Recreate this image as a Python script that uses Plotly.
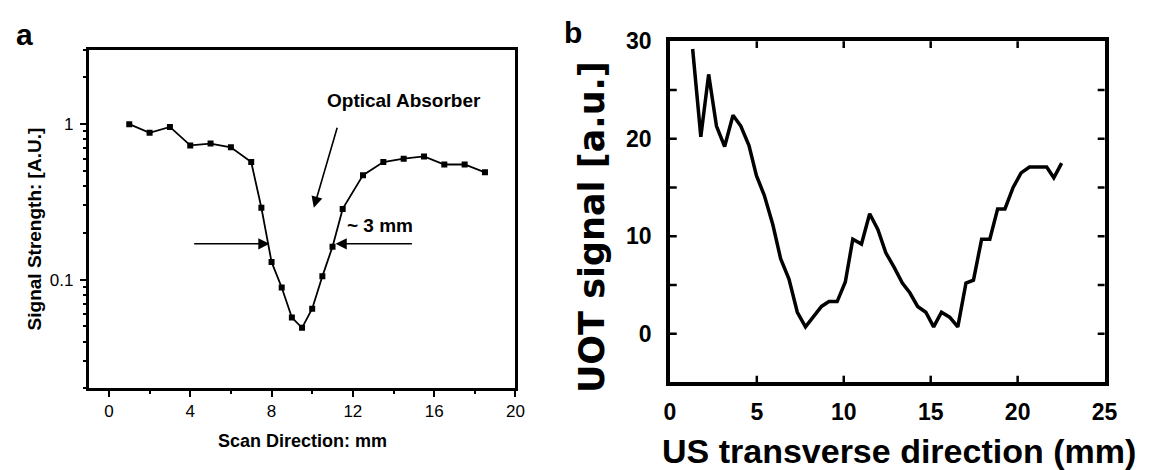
import math
import plotly.graph_objects as go

# ---- panel a: scan across the optical absorber (log scale) ----
scan_mm = [1, 2, 3, 4, 5, 6, 7, 7.5, 8, 8.5, 9, 9.5, 10, 10.5, 11, 11.5,
           12.5, 13.5, 14.5, 15.5, 16.5, 17.5, 18.5]
signal_au = [1.0, 0.88, 0.96, 0.73, 0.75, 0.71, 0.57, 0.29, 0.13, 0.089,
             0.057, 0.049, 0.065, 0.105, 0.163, 0.285, 0.47, 0.57, 0.60,
             0.62, 0.55, 0.55, 0.49]

# ---- panel b: UOT signal along the US transverse direction ----
us_mm = [1.31, 1.78, 2.23, 2.68, 3.15, 3.63, 4.08, 4.55, 4.98, 5.43, 5.92,
         6.37, 6.85, 7.33, 7.8, 8.25, 8.72, 9.15, 9.62, 10.09, 10.52, 11.02,
         11.49, 11.96, 12.42, 12.9, 13.37, 13.8, 14.25, 14.72, 15.17, 15.62,
         16.09, 16.56, 17.03, 17.46, 17.93, 18.4, 18.85, 19.27, 19.74, 20.2,
         20.68, 21.15, 21.67, 22.08, 22.53]
uot_signal = [29.2, 20.2, 26.6, 21.3, 19.2, 22.4, 21.3, 19.3, 16.2, 14.2,
              11.2, 7.7, 5.6, 2.2, 0.7, 1.8, 2.8, 3.3, 3.3, 5.3, 9.7, 9.2,
              12.3, 10.7, 8.3, 6.8, 5.2, 4.2, 2.8, 2.2, 0.7, 2.2, 1.7, 0.7,
              5.2, 5.5, 9.7, 9.7, 12.8, 12.8, 15.0, 16.5, 17.1, 17.1, 17.1,
              16.0, 17.5]

a_xticks = [0, 4, 8, 12, 16, 20]
a_yticks = [0.1, 1]
a_yticklabels = ["0.1", "1"]
b_xticks = [0, 5, 10, 15, 20, 25]
b_yticks = [0, 10, 20, 30]
b_yminor = [-5, 5, 15, 25]

W, H = 1152, 470
ARIAL = "Liberation Sans, Arial, Helvetica, sans-serif"

# panel b plot box (pixels) and inward tick length
B_LEFT, B_RIGHT, B_TOP, B_BOTTOM = 675, 1117, 29, 380
B_TICK = 7


def px(x):
    return x / W


def py(y):
    return 1 - y / H


def bold(vals):
    return ["<b>%g</b>" % v for v in vals]


fig = go.Figure()

fig.add_trace(go.Scatter(
    x=scan_mm, y=signal_au, xaxis="x", yaxis="y", mode="lines+markers",
    line=dict(color="black", width=1.8),
    marker=dict(symbol="square", size=6, color="black"),
    showlegend=False,
))

fig.add_trace(go.Scatter(
    x=us_mm, y=uot_signal, xaxis="x2", yaxis="y2", mode="lines",
    line=dict(color="black", width=3.5),
    showlegend=False,
))

minor_log = [0.02, 0.03, 0.04, 0.05, 0.06, 0.07, 0.08, 0.09,
             0.2, 0.3, 0.4, 0.5, 0.6, 0.7, 0.8, 0.9, 2, 3]

fig.update_layout(
    width=W, height=H,
    margin=dict(l=0, r=0, t=0, b=0),
    paper_bgcolor="white", plot_bgcolor="white",
    xaxis=dict(
        domain=[px(84), px(518)], anchor="y", range=[-1, 20],
        tickvals=a_xticks, ticks="outside", ticklen=6, tickwidth=2,
        tickcolor="black", showline=True, linewidth=2.5, linecolor="black",
        mirror=True, showgrid=False, zeroline=False,
        tickfont=dict(family=ARIAL, size=17, color="black"),
        minor=dict(dtick=2, tick0=0, ticks="outside", ticklen=3,
                   tickwidth=2, tickcolor="black", showgrid=False),
    ),
    yaxis=dict(
        domain=[py(386), py(38)], anchor="x", type="log",
        range=[math.log10(0.02), math.log10(3)],
        tickvals=a_yticks, ticktext=a_yticklabels,
        ticks="outside", ticklen=6, tickwidth=2, tickcolor="black",
        showline=True, linewidth=2.5, linecolor="black", mirror=True,
        showgrid=False, zeroline=False, ticklabelstandoff=3,
        tickfont=dict(family=ARIAL, size=17, color="black"),
        minor=dict(tickvals=minor_log, ticks="outside", ticklen=3,
                   tickwidth=2, tickcolor="black", showgrid=False),
    ),
    xaxis2=dict(
        domain=[px(B_LEFT), px(B_RIGHT)], anchor="y2", range=[0, 25],
        tickvals=b_xticks, ticktext=bold(b_xticks),
        ticks="", showline=True, linewidth=3.5, linecolor="black",
        mirror=True, showgrid=False, zeroline=False,
        ticklabelstandoff=6,
        tickfont=dict(family=ARIAL, size=23, color="black"),
    ),
    yaxis2=dict(
        domain=[py(B_BOTTOM), py(B_TOP)], anchor="x2", range=[-5, 30],
        tickvals=b_yticks, ticktext=bold(b_yticks),
        ticks="", showline=True, linewidth=3.5, linecolor="black",
        mirror=True, showgrid=False, zeroline=False,
        ticklabelstandoff=10,
        tickfont=dict(family=ARIAL, size=23, color="black"),
    ),
)

# inward tick marks on all four sides of panel b, placed on its axis scales
tick_line = dict(color="black", width=2.5)
fx = B_TICK / (B_RIGHT - B_LEFT)
fy = B_TICK / (B_BOTTOM - B_TOP)
for v in b_xticks[1:-1]:
    fig.add_shape(type="line", xref="x2", yref="y2 domain", x0=v, x1=v,
                  y0=0, y1=fy, line=tick_line, layer="above")
    fig.add_shape(type="line", xref="x2", yref="y2 domain", x0=v, x1=v,
                  y0=1, y1=1 - fy, line=tick_line, layer="above")
for v in sorted(b_yticks + b_yminor)[1:-1]:
    fig.add_shape(type="line", xref="x2 domain", yref="y2", x0=0, x1=fx,
                  y0=v, y1=v, line=tick_line, layer="above")
    fig.add_shape(type="line", xref="x2 domain", yref="y2", x0=1, x1=1 - fx,
                  y0=v, y1=v, line=tick_line, layer="above")

annotations = [
    # panel letters
    dict(text="<b>a</b>", x=px(19), y=py(22), font=dict(size=30)),
    dict(text="<b>b</b>", x=px(577), y=py(20), font=dict(size=30)),
    # panel a axis titles
    dict(text="<b>Scan Direction: mm</b>", x=px(301), y=py(440),
         font=dict(size=18)),
    dict(text="<b>Signal Strength: [A.U.]</b>", x=px(29), y=py(222),
         textangle=-90, font=dict(size=19)),
    # panel b axis titles
    dict(text="<b>US transverse direction (mm)</b>", x=px(908), y=py(450),
         font=dict(size=34)),
    dict(text="<b>UOT signal [a.u.]</b>", x=px(596), y=py(220),
         textangle=-90,
         font=dict(size=35, family="DejaVu Sans, sans-serif")),
    # panel a callouts
    dict(text="<b>Optical Absorber</b>", x=px(405), y=py(90),
         font=dict(size=19)),
    dict(text="<b>~ 3 mm</b>", x=px(380), y=py(219), font=dict(size=19)),
]
for ann in annotations:
    ann.setdefault("xref", "paper")
    ann.setdefault("yref", "paper")
    ann.setdefault("showarrow", False)
    ann.setdefault("xanchor", "center")
    ann.setdefault("yanchor", "middle")
    f = ann["font"]
    f.setdefault("family", ARIAL)
    f.setdefault("color", "black")
    fig.add_annotation(**ann)

# arrows on panel a (log axis positions given as log10 values)
arrow_style = dict(xref="x", yref="y", axref="x", ayref="y", text="",
                   showarrow=True, arrowhead=2, arrowsize=1.4,
                   arrowwidth=1.6, arrowcolor="black", standoff=0)
fig.add_annotation(x=10.08, y=math.log10(0.29), ax=11.25,
                   ay=math.log10(0.97), **arrow_style)
fig.add_annotation(x=7.9, y=math.log10(0.17), ax=4.12,
                   ay=math.log10(0.17), **arrow_style)
fig.add_annotation(x=11.15, y=math.log10(0.17), ax=14.98,
                   ay=math.log10(0.17), **arrow_style)

fig.write_html("out.html")
